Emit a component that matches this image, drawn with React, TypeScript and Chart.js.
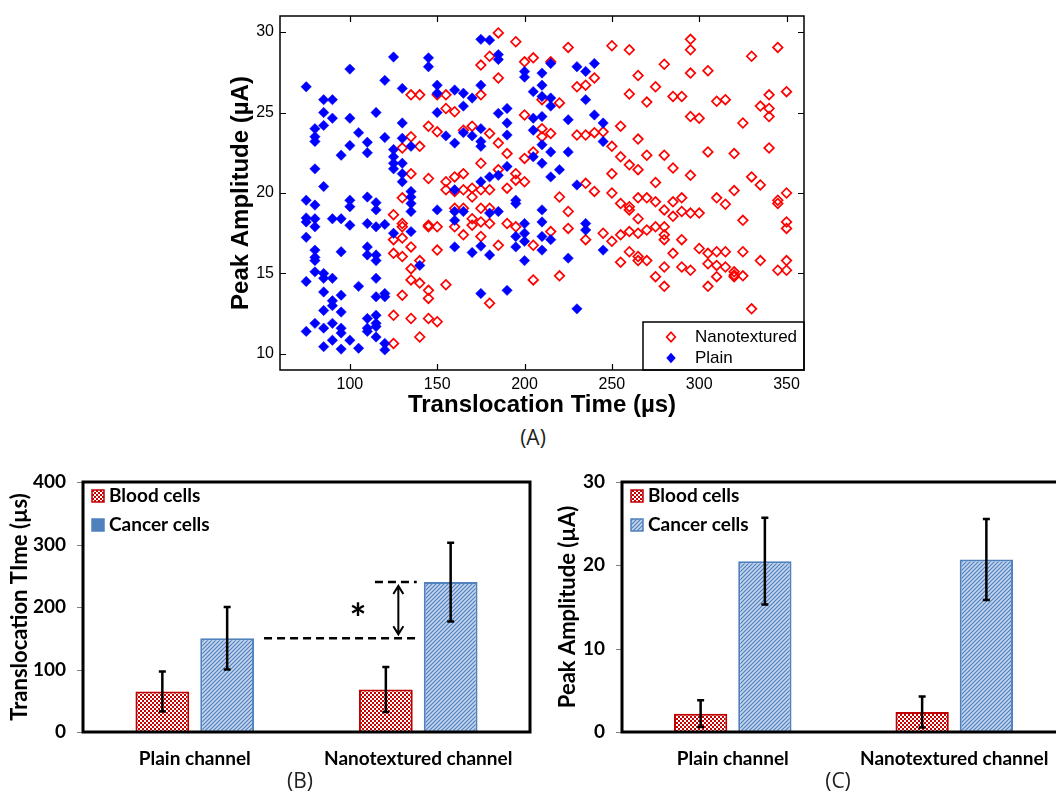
import React, { useEffect, useRef } from 'react';
import { Chart, registerables } from 'chart.js';
Chart.register(...registerables);

// ---------- Panel A: scatter data ----------
const plainX = [
  75, 75, 75, 75, 75, 75, 75,
  80, 80, 80, 80, 80, 80, 80, 80, 80, 80, 80, 80,
  85, 85, 85, 85, 85, 85, 85, 85, 85, 85,
  90, 90, 90, 90, 90, 90, 90, 90,
  95, 95, 95, 95, 95, 95, 95, 95,
  100, 100, 100, 100, 100, 100, 100,
  105, 105, 105,
  110, 110, 110, 110, 110, 110, 110, 110, 110,
  115, 115, 115, 115, 115, 115, 115, 115, 115, 115, 115, 115,
  120, 120, 120, 120, 120, 120, 120,
  125, 125, 125, 125, 125, 125,
  130, 130, 130, 130, 130, 130,
  135, 135, 135, 135, 135, 135,
  140,
  145, 145,
  150, 150, 150, 150,
  155,
  160, 160, 160, 160, 160, 160,
  165, 165, 165, 165,
  170, 170, 170,
  175, 175, 175, 175, 175, 175, 175, 175,
  180, 180, 180, 180,
  185, 185, 185, 185, 185,
  190, 190, 190, 190, 190,
  195, 195, 195, 195,
  200, 200, 200, 200, 200, 200,
  205, 205, 205, 205,
  210, 210, 210, 210, 210, 210, 210, 210, 210, 210,
  215, 215, 215, 215, 215, 215,
  220,
  225, 225, 225,
  230, 230, 230,
  235, 235, 235, 235,
  240, 240,
  245, 245, 245,
];
const plainY = [
  26.6, 19.55, 18.45, 18.2, 17.25, 14.5, 11.4,
  24.0, 23.5, 23.2, 21.5, 19.25, 18.4, 17.9, 16.45, 16.0, 15.8, 15.1, 11.9,
  25.8, 25.0, 24.2, 20.4, 15.0, 14.7, 13.85, 12.7, 11.6, 10.45,
  25.8, 24.65, 18.4, 14.7, 13.3, 13.0, 11.9, 10.85,
  22.35, 18.4, 16.35, 13.65, 12.6, 11.6, 11.3, 10.3,
  27.7, 24.65, 22.95, 19.55, 19.15, 18.0, 10.85,
  23.75, 14.2, 10.35,
  23.15, 22.5, 19.75, 18.1, 16.65, 16.15, 12.2, 11.6, 11.4,
  25.0, 19.4, 18.95, 17.9, 16.15, 15.8, 14.7, 13.55, 12.4, 11.9, 11.7, 11.05,
  27.0, 23.45, 18.05, 13.75, 13.55, 10.65, 10.25,
  28.45, 22.7, 22.25, 21.85, 21.5, 17.5,
  26.5, 24.35, 23.4, 21.85, 21.2, 20.7,
  22.9, 20.1, 19.75, 19.35, 18.85, 17.6,
  15.5,
  28.4, 27.85,
  26.7, 26.2, 25.0, 18.95,
  23.55,
  26.4, 23.1, 20.2, 18.85, 18.3, 16.65,
  26.2, 25.4, 23.75, 18.85,
  25.9, 23.55, 16.3,
  29.55, 26.7, 24.0, 23.2, 22.9, 20.7, 16.7, 13.75,
  29.5, 21.0, 18.75, 16.15,
  28.6, 28.3, 24.95, 21.1, 18.85,
  25.25, 24.35, 23.6, 21.65, 13.95,
  19.55, 19.35, 17.3, 16.65,
  27.55, 27.2, 18.1, 17.5, 17.0, 15.8,
  26.3, 24.65, 23.9, 22.25,
  27.45, 26.7, 26.0, 24.75, 23.0, 21.85, 18.95, 18.2, 17.3, 16.45,
  28.05, 25.9, 25.4, 22.55, 21.0, 17.1,
  21.45,
  24.55, 22.55, 15.95,
  27.85, 20.5, 12.8,
  27.55, 25.8, 18.1, 17.7,
  28.05, 24.85,
  24.35, 23.2, 16.45,
];

const nanoX = [
  125, 125, 125, 125, 125,
  130, 130, 130, 130, 130, 130, 130,
  135, 135, 135, 135, 135, 135, 135,
  140, 140, 140, 140, 140,
  145, 145, 145, 145, 145, 145, 145,
  150, 150, 150, 150, 150,
  155, 155, 155, 155, 155,
  160, 160, 160, 160, 160,
  165, 165, 165, 165, 165,
  170, 170, 170, 170, 170,
  175, 175, 175, 175, 175, 175, 175,
  180, 180, 180, 180, 180, 180,
  185, 185, 185, 185, 185,
  190, 190, 190,
  195, 195, 195, 195,
  200, 200, 200, 200,
  205, 205, 205, 205,
  210, 210, 210,
  215, 215, 215,
  220, 220, 220,
  225, 225, 225,
  230, 230,
  235, 235, 235, 235,
  240, 240, 240,
  245, 245,
  250, 250, 250, 250, 250,
  255, 255, 255, 255, 255,
  260, 260, 260, 260, 260, 260, 260,
  265, 265, 265, 265, 265, 265, 265, 265,
  270, 270, 270, 270, 270,
  275, 275, 275, 275, 275,
  280, 280, 280, 280, 280, 280, 280, 280,
  285, 285, 285, 285, 285,
  290, 290, 290, 290, 290,
  295, 295, 295, 295, 295, 295, 295,
  300, 300, 300,
  305, 305, 305, 305, 305,
  310, 310, 310, 310, 310,
  315, 315, 315, 315,
  320, 320, 320, 320, 320,
  325, 325, 325, 325,
  330, 330, 330,
  335, 335, 335,
  340, 340, 340, 340,
  345, 345, 345, 345,
  350, 350, 350, 350, 350, 350,
];
const nanoY = [
  18.65, 17.1, 16.25, 12.4, 10.65,
  22.8, 19.7, 18.1, 17.9, 17.2, 16.05, 13.65,
  26.1, 23.5, 21.2, 16.65, 15.3, 14.6, 12.2,
  26.1, 22.9, 15.8, 14.4, 11.05,
  24.15, 20.9, 18.0, 17.9, 13.95, 13.45, 12.2,
  26.1, 23.8, 17.9, 16.45, 12.0,
  26.1, 25.25, 20.7, 20.2, 14.3,
  25.05, 21.0, 20.1, 19.05, 17.9,
  23.9, 21.2, 20.2, 19.05, 17.4,
  24.15, 20.3, 19.75, 18.4, 18.0,
  27.95, 26.1, 21.85, 20.2, 19.05, 18.2, 17.3,
  28.5, 23.7, 20.2, 19.05, 18.1, 13.15,
  29.95, 27.15, 23.1, 21.45, 16.75,
  22.45, 20.3, 18.1,
  29.4, 21.2, 20.8, 17.9,
  28.15, 24.85, 22.15, 20.7,
  28.4, 22.55, 16.75, 14.6,
  25.8, 24.0, 23.5,
  28.15, 23.7, 17.6,
  25.6, 19.75, 14.85,
  29.05, 18.85, 17.8,
  26.6, 23.6,
  26.7, 23.6, 20.6, 17.1,
  27.15, 23.75, 20.1,
  23.8, 17.5,
  29.15, 22.9, 21.2, 20.0, 17.0,
  24.15, 22.25, 19.35, 17.4, 15.7,
  28.9, 26.15, 21.75, 19.15, 18.95, 17.6, 16.35,
  27.3, 23.35, 21.45, 19.7, 18.4, 17.5, 16.05, 15.8,
  25.65, 22.35, 19.7, 17.7, 15.8,
  26.6, 20.65, 19.45, 17.9, 14.8,
  28.0, 22.35, 18.95, 17.9, 17.4, 17.1, 15.4, 14.2,
  26.0, 21.55, 19.45, 18.55, 16.25,
  26.0, 19.7, 18.85, 17.1, 15.4,
  29.55, 28.9, 27.45, 24.75, 21.1, 18.75, 15.2,
  24.65, 18.75, 16.55,
  27.6, 22.55, 16.25, 15.6, 14.2,
  25.7, 19.7, 16.35, 15.5, 14.8,
  25.8, 19.3, 16.35, 15.4,
  22.45, 20.15, 15.1, 14.9, 14.8,
  24.35, 18.3, 16.35, 14.85,
  28.5, 21.0, 12.8,
  25.4, 20.5, 15.8,
  26.1, 25.25, 24.75, 22.8,
  29.05, 19.55, 19.35, 15.2,
  26.3, 20.0, 18.2, 17.8, 15.8, 15.2,
];

const scatterXTicks = [100, 150, 200, 250, 300, 350];
const scatterYTicks = [10, 15, 20, 25, 30];
const scatterSeries = ['Nanotextured', 'Plain'];

// ---------- Panels B & C: bar data ----------
const channels = ['Plain channel', 'Nanotextured channel'];
const barSeries = ['Blood cells', 'Cancer cells'];
const timeBlood = [65, 68];
const timeBloodErr = [32, 36];
const timeCancer = [150, 240];
const timeCancerErr = [50, 63];
const ampBlood = [2.2, 2.4];
const ampBloodErr = [1.6, 1.85];
const ampCancer = [20.5, 20.7];
const ampCancerErr = [5.2, 4.85];

const ARIAL = '"Liberation Sans", Arial, sans-serif';
const CALIBRI = 'Lato, "Open Sans", sans-serif';

function makeChecker(): CanvasPattern | string {
  const c = document.createElement('canvas');
  c.width = 4; c.height = 4;
  const g = c.getContext('2d');
  if (!g) return '#c00000';
  g.fillStyle = '#c80000'; g.fillRect(0, 0, 4, 4);
  g.fillStyle = '#ffffff'; g.fillRect(0, 0, 2, 2); g.fillRect(2, 2, 2, 2);
  return g.createPattern(c, 'repeat') || '#c00000';
}
function makeHatch(): CanvasPattern | string {
  const c = document.createElement('canvas');
  c.width = 4; c.height = 4;
  const g = c.getContext('2d');
  if (!g) return '#8eaadb';
  g.fillStyle = '#c5d6ee'; g.fillRect(0, 0, 4, 4);
  g.strokeStyle = '#4f81bd'; g.lineWidth = 1.2;
  g.beginPath();
  g.moveTo(0, 4); g.lineTo(4, 0);
  g.moveTo(-1, 1); g.lineTo(1, -1);
  g.moveTo(3, 5); g.lineTo(5, 3);
  g.stroke();
  return g.createPattern(c, 'repeat') || '#8eaadb';
}

function diamond(ctx: CanvasRenderingContext2D, x: number, y: number, r: number) {
  ctx.beginPath();
  ctx.moveTo(x, y - r); ctx.lineTo(x + r * 0.9, y); ctx.lineTo(x, y + r); ctx.lineTo(x - r * 0.9, y);
  ctx.closePath();
}

const scatterDeco = {
  id: 'scatterDeco',
  afterDatasetsDraw(chart: any) {
    const { ctx, chartArea: a, scales } = chart;
    const x = scales.x, y = scales.y;
    ctx.save();
    ctx.strokeStyle = '#000';
    ctx.lineWidth = 1.2;
    ctx.beginPath();
    x.ticks.forEach((t: any) => {
      const px = Math.round(x.getPixelForValue(t.value)) + 0.5;
      ctx.moveTo(px, a.bottom); ctx.lineTo(px, a.bottom - 6);
      ctx.moveTo(px, a.top); ctx.lineTo(px, a.top + 6);
    });
    y.ticks.forEach((t: any) => {
      const py = Math.round(y.getPixelForValue(t.value)) + 0.5;
      ctx.moveTo(a.left, py); ctx.lineTo(a.left + 6, py);
      ctx.moveTo(a.right, py); ctx.lineTo(a.right - 6, py);
    });
    ctx.stroke();
    // legend box
    const bx = a.right - 161, by = a.bottom - 48;
    ctx.fillStyle = '#fff';
    ctx.fillRect(bx, by, a.right - bx, a.bottom - by);
    ctx.lineWidth = 1.5;
    ctx.strokeRect(bx, by, a.right - bx, a.bottom - by);
    const mx = bx + 28;
    diamond(ctx, mx, by + 15, 4.8);
    ctx.strokeStyle = '#ff0000'; ctx.lineWidth = 1.7; ctx.stroke();
    diamond(ctx, mx, by + 36, 5.2);
    ctx.fillStyle = '#0000ff'; ctx.fill();
    ctx.fillStyle = '#000';
    ctx.font = `17px ${ARIAL}`;
    ctx.textBaseline = 'middle';
    ctx.textAlign = 'left';
    ctx.fillText(scatterSeries[0], bx + 52, by + 15);
    ctx.fillText(scatterSeries[1], bx + 52, by + 36);
    // frame
    ctx.strokeStyle = '#000';
    ctx.lineWidth = 1.5;
    ctx.strokeRect(a.left, a.top, a.right - a.left, a.bottom - a.top);
    ctx.restore();
  },
};

function makeBarDeco(errors: number[][], annotate: boolean, cancerLegendSolid: boolean) {
  return {
    id: 'barDeco',
    afterDatasetsDraw(chart: any) {
      const { ctx, chartArea: a, scales } = chart;
      const y = scales.y;
      ctx.save();
      // error bars
      chart.data.datasets.forEach((ds: any, di: number) => {
        const meta = chart.getDatasetMeta(di);
        meta.data.forEach((bar: any, i: number) => {
          const v = ds.data[i], e = errors[di][i];
          const top = y.getPixelForValue(v + e), bot = y.getPixelForValue(v - e);
          ctx.strokeStyle = '#000'; ctx.lineWidth = 2.5;
          ctx.beginPath();
          ctx.moveTo(bar.x, top); ctx.lineTo(bar.x, bot);
          ctx.moveTo(bar.x - 3.5, top); ctx.lineTo(bar.x + 3.5, top);
          ctx.moveTo(bar.x - 3.5, bot); ctx.lineTo(bar.x + 3.5, bot);
          ctx.stroke();
        });
      });
      if (annotate) {
        const c0: any = chart.getDatasetMeta(1).data[0];
        const b1: any = chart.getDatasetMeta(0).data[1];
        const yLow = y.getPixelForValue(chart.data.datasets[1].data[0]);
        const yHigh = y.getPixelForValue(chart.data.datasets[1].data[1]);
        const endX = b1.x + b1.width / 2 + 4;
        const startLow = c0.x + c0.width / 2 + 10;
        const startHigh = b1.x - b1.width / 2 + 16;
        ctx.strokeStyle = '#000'; ctx.lineWidth = 2.5;
        ctx.setLineDash([8, 5]);
        ctx.beginPath();
        ctx.moveTo(startLow, yLow); ctx.lineTo(endX, yLow);
        ctx.moveTo(startHigh, yHigh); ctx.lineTo(endX, yHigh);
        ctx.stroke();
        ctx.setLineDash([]);
        const ax = b1.x + 12.5;
        ctx.lineWidth = 2;
        ctx.beginPath();
        ctx.moveTo(ax, yHigh + 4); ctx.lineTo(ax, yLow - 4);
        ctx.moveTo(ax - 5, yHigh + 12); ctx.lineTo(ax, yHigh + 4); ctx.lineTo(ax + 5, yHigh + 12);
        ctx.moveTo(ax - 5, yLow - 12); ctx.lineTo(ax, yLow - 4); ctx.lineTo(ax + 5, yLow - 12);
        ctx.stroke();
        ctx.fillStyle = '#000';
        ctx.font = `bold 40px ${CALIBRI}`;
        ctx.textAlign = 'center';
        ctx.textBaseline = 'alphabetic';
        ctx.fillText('*', b1.x - b1.width / 2 - 1, (yLow + yHigh) / 2 + 23);
      }
      // y ticks
      ctx.strokeStyle = '#808080'; ctx.lineWidth = 1;
      ctx.beginPath();
      y.ticks.forEach((t: any) => {
        const py = Math.round(y.getPixelForValue(t.value)) + 0.5;
        ctx.moveTo(a.left - 6, py); ctx.lineTo(a.left, py);
      });
      ctx.stroke();
      // frame
      ctx.strokeStyle = '#000'; ctx.lineWidth = 3;
      ctx.strokeRect(a.left, a.top, a.right - a.left, a.bottom - a.top);
      // legend
      const lx = a.left + 9;
      const rows = [a.top + 14, a.top + 43];
      chart.data.datasets.forEach((ds: any, di: number) => {
        const cy = rows[di];
        ctx.fillStyle = di === 1 && cancerLegendSolid ? '#4f81bd' : ds.backgroundColor;
        ctx.fillRect(lx, cy - 6, 12, 12);
        ctx.strokeStyle = ds.borderColor; ctx.lineWidth = 1.5;
        ctx.strokeRect(lx, cy - 6, 12, 12);
        ctx.fillStyle = '#000';
        ctx.font = `bold 19px ${CALIBRI}`;
        ctx.textAlign = 'left';
        ctx.textBaseline = 'middle';
        ctx.fillText(ds.label, lx + 17, cy);
      });
      ctx.restore();
    },
  };
}

function ScatterPanel() {
  const ref = useRef<HTMLCanvasElement>(null);
  useEffect(() => {
    if (!ref.current) return;
    const chart = new Chart(ref.current, {
      type: 'scatter',
      data: {
        datasets: [
          {
            label: scatterSeries[0],
            data: nanoX.map((x, i) => ({ x, y: nanoY[i] })),
            pointStyle: 'rectRot',
            pointRadius: 4.8,
            borderColor: '#ff0000',
            backgroundColor: 'rgba(255,255,255,0)',
            borderWidth: 1.7,
            order: 1,
          },
          {
            label: scatterSeries[1],
            data: plainX.map((x, i) => ({ x, y: plainY[i] })),
            pointStyle: 'rectRot',
            pointRadius: 5.2,
            borderColor: '#0000ff',
            backgroundColor: '#0000ff',
            borderWidth: 0.5,
            order: 0,
          },
        ],
      },
      options: {
        animation: false,
        responsive: false,
        events: [],
        layout: { autoPadding: false, padding: { top: 16, right: 252, left: 0, bottom: 0 } },
        plugins: { legend: { display: false }, tooltip: { enabled: false } },
        scales: {
          x: {
            type: 'linear',
            min: 60,
            max: 360,
            grid: { display: false, drawTicks: false },
            border: { display: false },
            afterBuildTicks: (s: any) => { s.ticks = scatterXTicks.map((v) => ({ value: v })); },
            afterFit: (s: any) => { s.height = 50; s.paddingLeft = 0; s.paddingRight = 0; },
            ticks: { color: '#000', padding: 5, font: { family: ARIAL, size: 16 } },
            title: {
              display: true,
              text: 'Translocation Time (µs)',
              color: '#000',
              font: { family: ARIAL, size: 24, weight: 'bold', lineHeight: 1.2 },
              padding: { top: 0, bottom: 0 },
            },
          },
          y: {
            type: 'linear',
            min: 9,
            max: 31,
            grid: { display: false, drawTicks: false },
            border: { display: false },
            afterBuildTicks: (s: any) => { s.ticks = scatterYTicks.map((v) => ({ value: v })); },
            afterFit: (s: any) => { s.width = 280; s.paddingTop = 0; s.paddingBottom = 0; },
            ticks: { color: '#000', padding: 6, font: { family: ARIAL, size: 16 } },
            title: {
              display: true,
              text: 'Peak Amplitude (µA)',
              color: '#000',
              font: { family: ARIAL, size: 24, weight: 'bold', lineHeight: 1.2 },
              padding: { top: 227, bottom: 0 },
            },
          },
        },
      },
      plugins: [scatterDeco],
    } as any);
    return () => chart.destroy();
  }, []);
  return <canvas ref={ref} width={1056} height={420} style={{ position: 'absolute', left: 0, top: 0, width: 1056, height: 420 }} />;
}

function BarPanel(props: {
  left: number; blood: number[]; bloodErr: number[]; cancer: number[]; cancerErr: number[];
  max: number; step: number; yTitle: string; yWidth: number; padRight: number; titlePad: number; annotate: boolean; solidLegend: boolean;
}) {
  const ref = useRef<HTMLCanvasElement>(null);
  useEffect(() => {
    if (!ref.current) return;
    const chart = new Chart(ref.current, {
      type: 'bar',
      data: {
        labels: channels,
        datasets: [
          {
            label: barSeries[0],
            data: props.blood,
            backgroundColor: makeChecker(),
            borderColor: '#c00000',
            borderWidth: 2,
            categoryPercentage: 0.58,
            barPercentage: 0.83,
          },
          {
            label: barSeries[1],
            data: props.cancer,
            backgroundColor: makeHatch(),
            borderColor: '#4f81bd',
            borderWidth: 2,
            categoryPercentage: 0.58,
            barPercentage: 0.83,
          },
        ],
      },
      options: {
        animation: false,
        responsive: false,
        events: [],
        layout: { autoPadding: false, padding: { top: 22, right: props.padRight, left: 0, bottom: 0 } },
        plugins: { legend: { display: false }, tooltip: { enabled: false } },
        scales: {
          x: {
            grid: { display: false, drawTicks: false },
            border: { display: false },
            afterFit: (s: any) => { s.height = 63; s.paddingLeft = 0; s.paddingRight = 0; },
            ticks: { color: '#000', padding: 15, font: { family: CALIBRI, size: 19, weight: 'bold' } },
          },
          y: {
            min: 0,
            max: props.max,
            grid: { display: false, drawTicks: false },
            border: { display: false },
            afterFit: (s: any) => { s.width = props.yWidth; s.paddingTop = 0; s.paddingBottom = 0; },
            ticks: { stepSize: props.step, color: '#000', padding: 17, font: { family: CALIBRI, size: 19, weight: 'bold' } },
            title: {
              display: true,
              text: props.yTitle,
              color: '#000',
              font: { family: CALIBRI, size: 22, weight: 'bold', lineHeight: 1.2 },
              padding: { top: props.titlePad, bottom: 0 },
            },
          },
        },
      },
      plugins: [makeBarDeco([props.bloodErr, props.cancerErr], props.annotate, props.solidLegend)],
    } as any);
    return () => chart.destroy();
  }, []);
  return <canvas ref={ref} width={540} height={335} style={{ position: 'absolute', left: props.left, top: 460, width: 540, height: 335 }} />;
}

const panelLabel = (text: string, x: number, y: number) => (
  <div style={{
    position: 'absolute', left: x, top: y, transform: 'translate(-50%, -50%)',
    font: `21px "Open Sans", ${ARIAL}`, color: '#222', whiteSpace: 'nowrap',
  }}>{text}</div>
);

export default function App() {
  return (
    <div style={{ position: 'fixed', left: 0, top: 0, width: 1056, height: 795, overflow: 'hidden', background: '#fff' }}>
      <ScatterPanel />
      <BarPanel left={0} blood={timeBlood} bloodErr={timeBloodErr} cancer={timeCancer} cancerErr={timeCancerErr}
        max={400} step={100} yTitle="Translocation TIme (µs)" yWidth={83} padRight={10} titlePad={7} annotate={true} solidLegend={true} />
      <BarPanel left={540} blood={ampBlood} bloodErr={ampBloodErr} cancer={ampCancer} cancerErr={ampCancerErr}
        max={30} step={10} yTitle="Peak Amplitude (µA)" yWidth={82} padRight={15} titlePad={15} annotate={false} solidLegend={false} />
      {panelLabel('(A)', 533, 437)}
      {panelLabel('(B)', 300, 780)}
      {panelLabel('(C)', 838, 780)}
    </div>
  );
}
